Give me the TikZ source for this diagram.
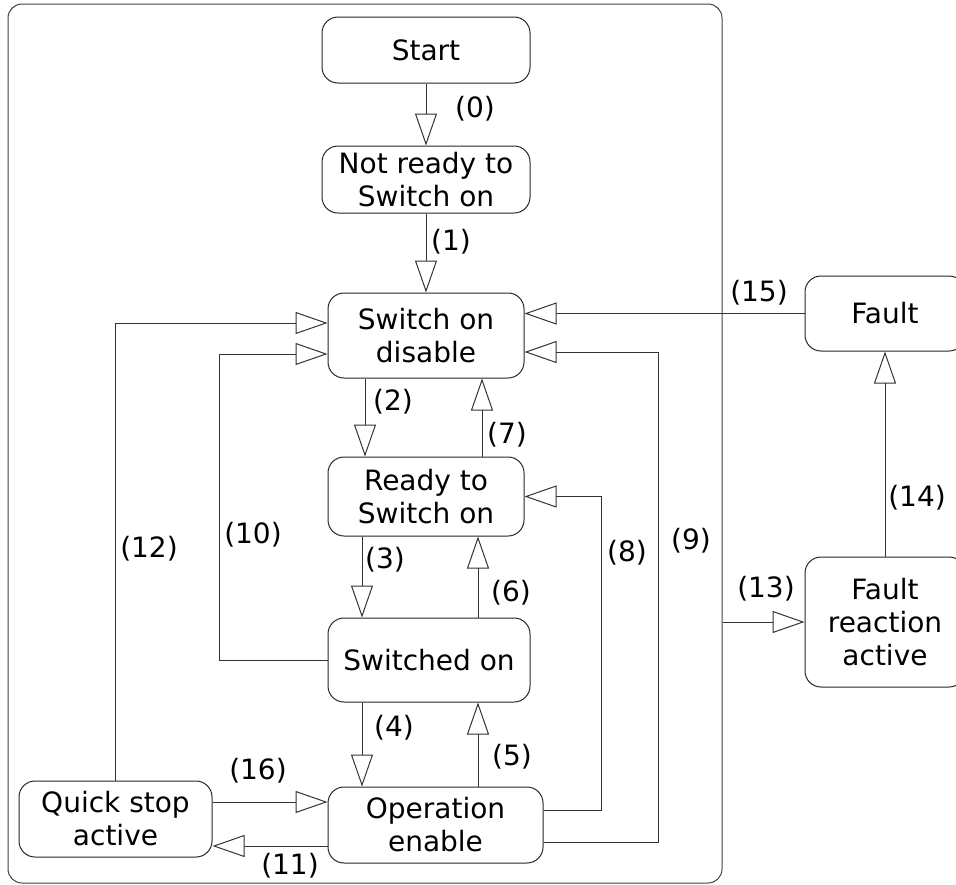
\documentclass[tikz,border=0pt]{standalone}
\usepackage{fontspec}
\setmainfont{DejaVu Sans}
\usetikzlibrary{arrows.meta}

\begin{document}
\begin{tikzpicture}[x=1pt,y=-1pt,
  line width=1pt,
  state/.style={draw=black!85,rounded corners=16pt,align=center,inner sep=2pt,
    font=\fontsize{28}{33}\selectfont},
  num/.style={inner sep=0pt,font=\fontsize{28}{33}\selectfont},
  flow/.style={draw=black!80,-{Triangle[open,length=32pt,width=22pt]}}]
\useasboundingbox (0,0) rectangle (956,884);
\node[draw=black!75,rounded corners=14pt,minimum width=714,minimum height=879] (frame) at (365,443.5) {};
\node[state,minimum width=208,minimum height=66] (start) at (426,50) {Start};
\node[state,minimum width=208,minimum height=67] (notready) at (426,179.5) {Not ready to\\Switch on};
\node[state,minimum width=196,minimum height=85] (disable) at (426,335.5) {Switch on\\disable};
\node[state,minimum width=196,minimum height=79] (ready) at (426,496.5) {Ready to\\Switch on};
\node[state,minimum width=202,minimum height=84] (switched) at (429,660) {Switched on};
\node[state,minimum width=215,minimum height=76] (operation) at (435.5,825) {Operation\\enable};
\node[state,minimum width=193,minimum height=76] (quick) at (115.5,819) {Quick stop\\active};
\node[state,minimum width=160,minimum height=75] (fault) at (885,313.5) {Fault};
\node[state,minimum width=160,minimum height=130] (reaction) at (885,622) {Fault\\reaction\\active};

\coordinate (q16) at ([yshift=17]quick.east);
\coordinate (o11) at ([yshift=-21]operation.west);

\draw[flow] (start.south) -- (notready.north);
\draw[flow] (notready.south) -- (disable.north);
\draw[flow] ([xshift=-61]disable.south) -- ([xshift=-61]ready.north);
\draw[flow] ([xshift=56]ready.north) -- ([xshift=56]disable.south);
\draw[flow] ([xshift=-64]ready.south) -- ([xshift=-67]switched.north);
\draw[flow] ([xshift=49]switched.north) -- ([xshift=52]ready.south);
\draw[flow] ([xshift=-67]switched.south) -- ([xshift=-73.5]operation.north);
\draw[flow] ([xshift=42.5]operation.north) -- ([xshift=49]switched.south);
\draw[flow] ([yshift=15]operation.east) -- ++(58,0) |- (ready.east);
\draw[flow] ([yshift=-17]operation.east) -- ++(115,0) |- ([yshift=-16.5]disable.east);
\draw[flow] (switched.west) -- ++(-108,0) |- ([yshift=-18.5]disable.west);
\draw[flow] (quick.north) |- ([yshift=12.5]disable.west);
\draw[flow] (o11) -- (o11 -| quick.east);
\draw[flow] (q16) -- (q16 -| operation.west);
\draw[flow] (reaction.west -| frame.east) -- (reaction.west);
\draw[flow] (reaction.north) -- (fault.south);
\draw[flow] (fault.west) -- (fault.west -| disable.east);

\node[num] (l0) at (475,109) {(0)};
\node[num] (l1) at (451,242) {(1)};
\node[num] (l2) at (393,402) {(2)};
\node[num] (l3) at (385,560) {(3)};
\node[num] (l4) at (394,728) {(4)};
\node[num] (l5) at (512,757) {(5)};
\node[num] (l6) at (511,593) {(6)};
\node[num] (l7) at (507,435) {(7)};
\node[num] (l8) at (627,553) {(8)};
\node[num] (l9) at (691,541) {(9)};
\node[num] (l10) at (253,535) {(10)};
\node[num] (l11) at (290,866) {(11)};
\node[num] (l12) at (149,549) {(12)};
\node[num] (l13) at (766,589) {(13)};
\node[num] (l14) at (917,498) {(14)};
\node[num] (l15) at (759,293) {(15)};
\node[num] (l16) at (258,771) {(16)};
\end{tikzpicture}
\end{document}
